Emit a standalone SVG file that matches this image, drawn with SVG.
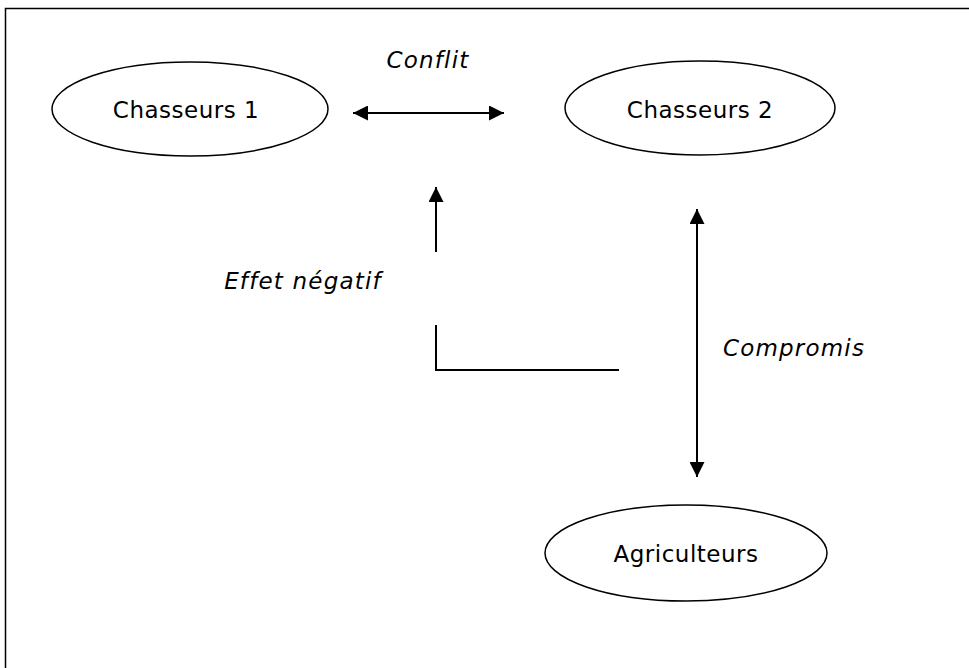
<svg xmlns="http://www.w3.org/2000/svg" width="969" height="668" viewBox="0 0 969 668">
<defs>
<style>
.node{fill:#fff;stroke:#000;stroke-width:1.5}
.lbl{font-family:"DejaVu Sans",sans-serif;font-size:23px;letter-spacing:0.5px;fill:#000;text-anchor:middle}
.elbl{font-family:"DejaVu Sans",sans-serif;font-style:oblique;font-size:23px;letter-spacing:1.2px;fill:#000;text-anchor:middle}
.conn{stroke:#000;stroke-width:2;fill:none}
</style>
<marker id="ah" viewBox="0 0 10 10" refX="10" refY="5" markerWidth="15" markerHeight="15" markerUnits="userSpaceOnUse" orient="auto-start-reverse">
<path d="M0,0 L10,5 L0,10 Z" fill="#000"/>
</marker>
</defs>
<rect x="0" y="0" width="969" height="668" fill="#fff"/>
<rect x="5.5" y="8.5" width="1000" height="700" fill="none" stroke="#000" stroke-width="1.5"/>
<g id="connectors">
<line class="conn" x1="353" y1="113" x2="504" y2="113" marker-start="url(#ah)" marker-end="url(#ah)"/>
<line class="conn" x1="436" y1="252" x2="436" y2="187" marker-end="url(#ah)"/>
<polyline class="conn" points="436,325 436,370 619,370"/>
<line class="conn" x1="697" y1="209" x2="697" y2="477" marker-start="url(#ah)" marker-end="url(#ah)"/>
<text class="elbl" x="428" y="68">Conflit</text>
<text class="elbl" x="303" y="289">Effet négatif</text>
<text class="elbl" x="794" y="356">Compromis</text>
</g>
<g id="chasseurs1">
<ellipse class="node" cx="190" cy="109" rx="138" ry="47"/>
<text class="lbl" x="186" y="118">Chasseurs 1</text>
</g>
<g id="chasseurs2">
<ellipse class="node" cx="700" cy="108" rx="135" ry="47"/>
<text class="lbl" x="700" y="118">Chasseurs 2</text>
</g>
<g id="agriculteurs">
<ellipse class="node" cx="686" cy="553" rx="141" ry="48"/>
<text class="lbl" x="686" y="562">Agriculteurs</text>
</g>
</svg>
